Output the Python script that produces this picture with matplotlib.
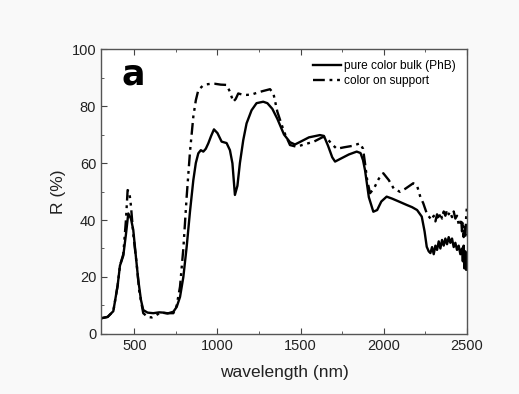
import matplotlib.pyplot as plt
from matplotlib.ticker import MultipleLocator

plt.rcParams['font.family'] = ['Liberation Sans', 'DejaVu Sans']

# pure color bulk (PhB)
wl_bulk = [300, 340, 374, 400, 414, 434, 450, 464, 480, 494, 510, 524, 540, 554, 580, 614,
           650, 674, 700, 735, 755, 775, 795, 815, 835, 855, 870, 885, 900, 915, 930, 945,
           962, 979, 1000, 1025, 1055, 1075, 1090, 1105, 1120, 1135, 1155, 1175, 1205, 1235,
           1275, 1300, 1330, 1360, 1400, 1436, 1466, 1500, 1550, 1616, 1640, 1665, 1690, 1707,
           1740, 1790, 1837, 1860, 1875, 1887, 1910, 1937, 1960, 1985, 2017, 2050, 2090, 2137,
           2170, 2200, 2228, 2245, 2258, 2270, 2280, 2290, 2300, 2310, 2320, 2330, 2340, 2350,
           2360, 2370, 2380, 2390, 2400, 2410, 2420, 2430, 2440, 2450, 2460, 2470, 2475, 2480,
           2485, 2490, 2495, 2500]
r_bulk = [5.5, 6.0, 8.0, 17.0, 24.0, 27.5, 35.0, 42.3, 40.5, 36.5, 27.0, 19.0, 12.0, 8.4, 7.5, 7.3,
          7.6, 7.5, 7.2, 7.8, 9.5, 13.0, 20.0, 30.6, 43.0, 54.0, 60.0, 63.4, 64.5, 64.0, 65.0, 66.9,
          69.5, 71.8, 70.5, 67.5, 67.0, 64.5, 59.9, 48.8, 52.0, 60.0, 68.0, 73.9, 78.5, 81.0,
          81.5, 81.0, 79.0, 75.5, 70.0, 67.3, 66.5, 67.5, 69.0, 69.8, 69.5, 66.0, 62.0, 60.5,
          61.5, 63.0, 64.0, 63.5, 61.0, 57.5, 48.0, 42.9, 43.5, 46.5, 48.2, 47.5, 46.5, 45.3,
          44.5, 43.5, 41.2, 36.0, 30.6, 29.0, 28.4, 30.5, 28.0, 31.0, 29.5, 32.5, 30.0, 33.0,
          31.0, 33.5, 31.5, 34.0, 32.0, 33.5, 30.5, 32.0, 29.5, 31.0, 28.0, 30.0, 25.5, 31.0,
          23.0, 29.0, 22.5, 27.0]

# color on support
wl_supp = [300, 340, 374, 400, 414, 434, 450, 460, 470, 480, 494, 514, 530, 554, 580, 605,
           630, 655, 700, 735, 755, 775, 795, 815, 835, 855, 870, 885, 910, 935, 960, 985,
           1020, 1055, 1075, 1095, 1110, 1125, 1150, 1175, 1205, 1235, 1270, 1316, 1336, 1360,
           1400, 1436, 1476, 1520, 1580, 1636, 1660, 1690, 1717, 1760, 1810, 1857, 1875, 1887,
           1900, 1917, 1940, 1970, 1997, 2030, 2060, 2097, 2130, 2177, 2200, 2220, 2237, 2260,
           2288, 2300, 2310, 2320, 2330, 2340, 2350, 2360, 2370, 2380, 2390, 2398, 2410, 2420,
           2430, 2440, 2450, 2458, 2465, 2470, 2475, 2480, 2485, 2490, 2495, 2500]
r_supp = [5.5, 6.0, 8.0, 17.0, 24.0, 28.0, 40.0, 50.5, 50.0, 45.0, 35.0, 24.8, 15.0, 7.3, 6.0, 5.8,
          6.5, 7.5, 7.3, 7.3, 10.0, 16.6, 30.0, 48.2, 64.0, 76.3, 82.0, 85.6, 87.0, 87.6, 87.8, 87.8,
          87.5, 87.4, 85.0, 81.5, 82.5, 84.4, 84.0, 83.9, 84.0, 84.6, 85.2, 85.9, 84.5, 78.0,
          71.0, 66.3, 65.7, 66.5, 67.5, 69.2, 68.5, 66.5, 65.0, 65.5, 66.0, 66.9, 65.0, 59.9,
          54.0, 49.4, 51.0, 54.5, 56.4, 54.0, 51.0, 49.9, 51.0, 52.9, 52.0, 48.0, 45.9, 42.0,
          40.0, 41.5, 39.5, 42.0, 40.0, 42.5, 40.5, 43.0, 41.5, 43.5, 42.0, 42.9, 41.0, 43.0,
          40.5, 41.5, 38.5, 38.0, 40.5, 36.0, 39.5, 34.0, 38.0, 33.5, 41.0, 45.0]

fig = plt.figure(figsize=(5.19, 3.94), dpi=100, facecolor='#f9f9f9')
ax = fig.add_axes([0.1946, 0.1523, 0.7052, 0.7233])
ax.set_facecolor('white')

ax.plot(wl_bulk, r_bulk, color='black', lw=1.7, label='pure color bulk (PhB)')
ax.plot(wl_supp, r_supp, color='black', lw=1.7, linestyle=(0, (5, 2, 1.2, 2, 1.2, 2)),
        label='color on support')

ax.set_xlim(300, 2500)
ax.set_ylim(0, 100)
ax.xaxis.set_major_locator(MultipleLocator(500))
ax.xaxis.set_minor_locator(MultipleLocator(250))
ax.yaxis.set_major_locator(MultipleLocator(20))
ax.yaxis.set_minor_locator(MultipleLocator(10))
ax.tick_params(which='both', direction='in', top=True, right=False, colors='#444444',
               labelcolor='#222222', labelsize=10.5)
ax.tick_params(which='major', length=4)
ax.tick_params(which='minor', length=2.5)
for s in ax.spines.values():
    s.set_color('#555555')
    s.set_linewidth(1.0)

ax.set_xlabel('wavelength (nm)', fontsize=12.5, color='#222222', labelpad=9)
ax.set_ylabel('R (%)', fontsize=12.5, color='#222222', labelpad=4)

ax.text(0.057, 0.874, 'a', transform=ax.transAxes, fontsize=25, fontweight='bold',
        family=['DejaVu Sans'])

ax.legend(loc='upper right', frameon=False, fontsize=8.6, handlelength=2.35,
          handletextpad=0.3, labelspacing=0.3, borderaxespad=0.5)

fig.savefig('out.png', dpi=100, facecolor=fig.get_facecolor())
